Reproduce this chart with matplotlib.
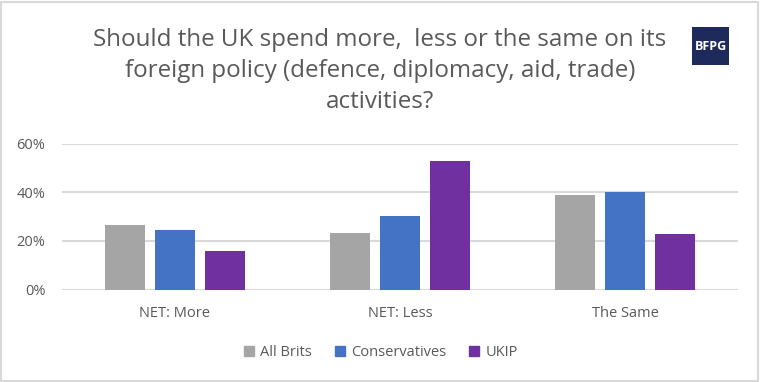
import matplotlib.pyplot as plt
import numpy as np
from matplotlib.patches import Rectangle
from matplotlib.lines import Line2D
from matplotlib.ticker import PercentFormatter

categories = ['NET: More', 'NET: Less', 'The Same']
all_brits = [0.265, 0.235, 0.388]
conservatives = [0.246, 0.305, 0.40]
ukip = [0.159, 0.531, 0.227]
series = ['All Brits', 'Conservatives', 'UKIP']
colors = ['#a5a5a5', '#4472c4', '#7030a0']

plt.rcParams['font.family'] = ['Open Sans', 'DejaVu Sans']
txt = '#595959'

W, H = 760, 382
fig = plt.figure(figsize=(W / 100, H / 100), dpi=100)

# chart border
fig.patches.append(Rectangle((1 / W, 1 / H), 1 - 3 / W, 1 - 3 / H, transform=fig.transFigure,
                             fill=False, edgecolor='#d9d9d9', linewidth=1.5))

ax = fig.add_axes([62 / W, 1 - 289.5 / H, 676 / W, 145.5 / H])

x = np.arange(len(categories))
cw = 676 / 3
bw = 40 / cw
step = 50 / cw
for i, (vals, c) in enumerate(zip([all_brits, conservatives, ukip], colors)):
    ax.bar(x + (i - 1) * step, vals, width=bw, color=c, zorder=3, label=series[i])

ax.set_xlim(-0.5, 2.5)
ax.set_ylim(0, 0.6)
ax.set_yticks([0, 0.2, 0.4, 0.6])
ax.yaxis.set_major_formatter(PercentFormatter(1.0, decimals=0))
ax.grid(axis='y', color='#d9d9d9', linewidth=1.5, zorder=0)
for s in ax.spines.values():
    s.set_visible(False)
ax.set_xticks(x)
ax.set_xticklabels(categories)
ax.tick_params(length=0, labelsize=10.5, colors=txt, pad=12)
ax.tick_params(axis='y', pad=12)

fig.text(0.5, 1 - 71 / H, 'Should the UK spend more,  less or the same on its\n'
         'foreign policy (defence, diplomacy, aid, trade)\nactivities?',
         ha='center', va='center', fontsize=17.4, color=txt, linespacing=1.4)

# logo
fig.patches.append(Rectangle((692 / W, 1 - 65 / H), 37 / W, 38 / H, transform=fig.transFigure,
                             facecolor='#1f2a5c', edgecolor='none'))
fig.text(710.5 / W, 1 - 46 / H, 'BFPG', ha='center', va='center', color='white',
         fontsize=9, fontweight='bold')

handles = [Line2D([], [], marker='s', linestyle='none', markersize=7.5, color=c) for c in colors]
fig.legend(handles, series, loc='center', bbox_to_anchor=(0.5, 1 - 353 / H), ncol=3,
           frameon=False, fontsize=10.5, labelcolor=txt, handletextpad=0.3,
           columnspacing=1.5, handlelength=0.9)

fig.savefig('out.png', dpi=100)
